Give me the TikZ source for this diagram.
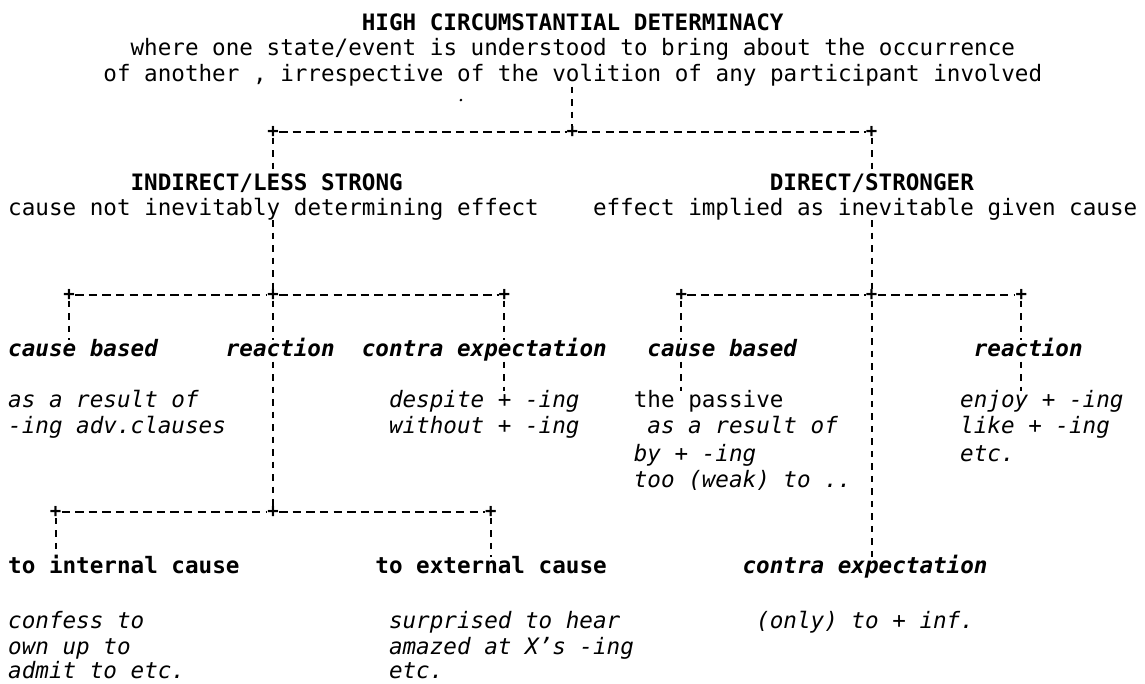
\documentclass[tikz,border=0pt]{standalone}
\usepackage{fontspec}
\setmonofont{DejaVu Sans Mono}
\begin{document}
\begin{tikzpicture}[x=13.6pt,y=-1pt,
  base/.style={inner sep=0pt, anchor=base west, text height=16pt, text depth=5pt, font=\ttfamily\fontsize{22.6}{25.4}\selectfont},
  plain/.style={base},
  bld/.style={base, font=\ttfamily\bfseries\fontsize{22.6}{25.4}\selectfont},
  itl/.style={base, font=\ttfamily\itshape\fontsize{22.6}{25.4}\selectfont},
  bit/.style={base, font=\ttfamily\bfseries\itshape\fontsize{22.6}{25.4}\selectfont},
  jn/.style={inner sep=0pt, font=\ttfamily\bfseries\fontsize{19}{19}\selectfont},
  hd/.style={line width=1.9pt, dash pattern=on 8.5pt off 5.1pt},
  vd/.style={line width=1.9pt, dash pattern=on 6.5pt off 6pt},
]
\useasboundingbox (-0.588,0) rectangle (83.60,683);
% top block
\node[bld] (title) at (26,30) {HIGH CIRCUMSTANTIAL DETERMINACY};
\node[plain] (l1) at (9,55.5) {where one state/event is understood to bring about the occurrence};
\node[plain] (l2) at (7,81.5) {of another , irrespective of the volition of any participant involved};
\fill (33.3,100) circle (1.4pt);
\node[jn] (j1l) at (19.5,132) {+};
\node[jn] (j1m) at (41.5,132) {+};
\node[jn] (j1r) at (63.5,132) {+};
\draw[vd] (j1m |- l2.south) -- (j1m);
\draw[hd] (j1l) -- (j1m) -- (j1r);
% second level
\node[bld] (ind) at (9,190) {INDIRECT/LESS STRONG};
\node[bld] (dir) at (56,190) {DIRECT/STRONGER};
\draw[vd] (j1l) -- ([yshift=4pt]j1l |- ind.north);
\draw[vd] (j1r) -- ([yshift=4pt]j1r |- dir.north);
\node[plain] (indd) at (0,215) {cause not inevitably determining effect};
\node[plain] (dird) at (43,215) {effect implied as inevitable given cause};
% third level junctions
\node[jn] (j2a) at (4.5,295) {+};
\node[jn] (j2b) at (19.5,295) {+};
\node[jn] (j2c) at (36.5,295) {+};
\node[jn] (j2d) at (49.5,295) {+};
\node[jn] (j2e) at (63.5,295) {+};
\node[jn] (j2f) at (74.5,295) {+};
\draw[vd] (j2b |- indd.south) -- (j2b);
\draw[vd] (j2e |- dird.south) -- (j2e);
\draw[hd] (j2a) -- (j2b) -- (j2c);
\draw[hd] (j2d) -- (j2e) -- (j2f);
% third level labels
\node[bit] (cb1) at (0,356.5) {cause based};
\node[bit] (re1) at (16,356.5) {reaction};
\node[bit] (ce1) at (26,356.5) {contra expectation};
\node[bit] (cb2) at (47,356.5) {cause based};
\node[bit] (re2) at (71,356.5) {reaction};
\draw[vd] (j2a) -- (j2a |- cb1.north);
\draw[vd] (j2b) -- (j2b |- re1.north);
\draw[vd] (j2c) -- (j2c |- ce1.north);
\draw[vd] (j2d) -- (j2d |- cb2.north);
\draw[vd] (j2f) -- (j2f |- re2.north);
% examples
\node[itl] (e1a) at (0,407.5) {as a result of};
\node[itl] (e1b) at (0,433.5) {-ing adv.clauses};
\node[itl] (e3a) at (28,407.5) {despite + -ing};
\node[itl] (e3b) at (28,433.5) {without + -ing};
\node[plain] (e4a) at (46,407.5) {the passive};
\node[itl] (e4b) at (47,433.5) {as a result of};
\node[itl] (e4c) at (46,461) {by + -ing};
\node[itl] (e4d) at (46,487) {too (weak) to ..};
\node[itl] (e5a) at (70,407.5) {enjoy + -ing};
\node[itl] (e5b) at (70,433.5) {like + -ing};
\node[itl] (e5c) at (70,461) {etc.};
\draw[vd] (j2c |- ce1.south) -- (j2c |- e3a.north);
\draw[vd] (j2d |- cb2.south) -- (j2d |- e4a.north);
\draw[vd] (j2f |- re2.south) -- (j2f |- e5a.north);
% fourth level
\node[jn] (j3a) at (3.5,512) {+};
\node[jn] (j3b) at (19.5,512) {+};
\node[jn] (j3c) at (35.5,512) {+};
\draw[vd] (j2b |- re1.south) -- (j3b);
\draw[hd] (j3a) -- (j3b) -- (j3c);
\node[bld] (ic) at (0,573.5) {to internal cause};
\node[bld] (ec) at (27,573.5) {to external cause};
\node[bit] (ce2) at (54,573.5) {contra expectation};
\draw[vd] (j3a) -- (j3a |- ic.north);
\draw[vd] (j3c) -- (j3c |- ec.north);
\draw[vd] (j2e) -- (j2e |- ce2.north);
\node[itl] (ic1) at (0,628.5) {confess to};
\node[itl] (ic2) at (0,654.5) {own up to};
\node[itl] (ic3) at (0,678.5) {admit to etc.};
\node[itl] (ec1) at (28,628.5) {surprised to hear};
\node[itl] (ec2) at (28,654.5) {amazed at X’s -ing};
\node[itl] (ec3) at (28,678.5) {etc.};
\node[itl] (cx1) at (55,628.5) {(only) to + inf.};
\end{tikzpicture}
\end{document}
